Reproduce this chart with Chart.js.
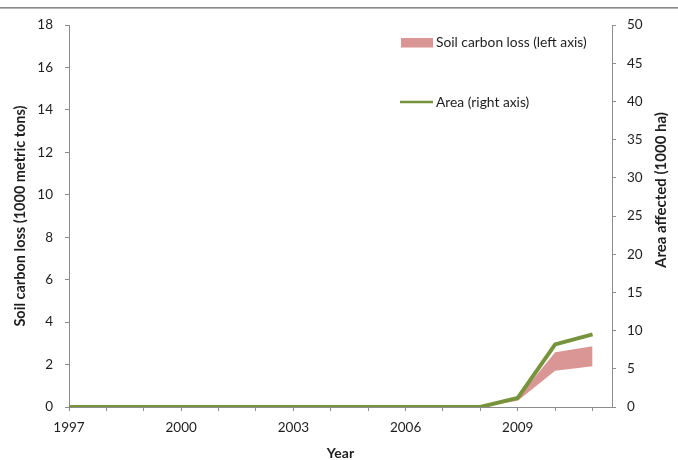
<!DOCTYPE html>
<html>
<head>
<meta charset="utf-8">
<script src="https://cdn.jsdelivr.net/npm/chart.js@4/dist/chart.umd.min.js"></script>
<style>
  html, body { margin: 0; padding: 0; background: #ffffff; }
  #wrap { width: 678px; height: 460px; position: relative; }
</style>
</head>
<body>
<div id="wrap"><canvas id="chart" width="678" height="460"></canvas></div>
<script>
// Years on the horizontal axis
const years = [1997, 1998, 1999, 2000, 2001, 2002, 2003, 2004, 2005, 2006, 2007, 2008, 2009, 2010, 2011];
// Area affected (1000 ha), right axis
const areaAffected = [0, 0, 0, 0, 0, 0, 0, 0, 0, 0, 0, 0, 1.2, 8.2, 9.5];
// Soil carbon loss range (1000 metric tons), left axis
const carbonLow  = [0, 0, 0, 0, 0, 0, 0, 0, 0, 0, 0, 0, 0.30, 1.71, 1.92];
const carbonHigh = [0, 0, 0, 0, 0, 0, 0, 0, 0, 0, 0, 0, 0.42, 2.58, 2.86];
// Labelled years on the horizontal axis
const yearLabels = [1997, 2000, 2003, 2006, 2009];

const FONT = 'Lato, "Open Sans", sans-serif';
const AXIS_GREY = '#8c8c8c';
const TEXT = '#1e1e1e';
const GREEN = '#77933C';
const PINK = '#D99694';

const toPoints = arr => years.map((yr, i) => ({ x: yr, y: arr[i] }));

// Legend drawn inside the plot, plus the thin rule along the top edge
const decorations = {
  id: 'decorations',
  beforeDraw(chart) {
    const ctx = chart.ctx;
    ctx.save();
    ctx.fillStyle = '#8a8a8a';
    ctx.fillRect(0, 7, chart.width, 1);
    ctx.fillStyle = '#b4b4b4';
    ctx.fillRect(0, 8, chart.width, 1);
    ctx.restore();
  },
  afterDraw(chart) {
    const ctx = chart.ctx;
    const ds = chart.data.datasets;
    ctx.save();
    ctx.font = '13.8px ' + FONT;
    ctx.textBaseline = 'middle';
    ctx.textAlign = 'left';
    // band entry
    ctx.fillStyle = ds[2].backgroundColor;
    ctx.fillRect(401, 38, 32, 9.5);
    ctx.fillStyle = TEXT;
    ctx.fillText(ds[2].label, 436, 43);
    // line entry
    ctx.strokeStyle = ds[0].borderColor;
    ctx.lineWidth = 2.5;
    ctx.beginPath();
    ctx.moveTo(400, 102);
    ctx.lineTo(433, 102);
    ctx.stroke();
    ctx.fillText(ds[0].label, 436, 103);

    // right axis title, reading bottom to top
    ctx.font = 'bold 15px ' + FONT;
    ctx.textAlign = 'center';
    ctx.translate(661, 190);
    ctx.rotate(-Math.PI / 2);
    ctx.fillText('Area affected (1000 ha)', 0, 0);
    ctx.restore();
  }
};

new Chart(document.getElementById('chart'), {
  type: 'line',
  data: {
    datasets: [
      {
        label: 'Area (right axis)',
        data: toPoints(areaAffected),
        yAxisID: 'y1',
        borderColor: GREEN,
        borderWidth: 4,
        borderJoinStyle: 'round',
        borderCapStyle: 'butt',
        pointRadius: 0,
        tension: 0,
        fill: false
      },
      {
        label: 'Soil carbon loss low',
        data: toPoints(carbonLow),
        yAxisID: 'y',
        borderWidth: 0,
        borderColor: 'rgba(0,0,0,0)',
        pointRadius: 0,
        tension: 0,
        fill: false
      },
      {
        label: 'Soil carbon loss (left axis)',
        data: toPoints(carbonHigh),
        yAxisID: 'y',
        borderWidth: 0,
        borderColor: 'rgba(0,0,0,0)',
        backgroundColor: PINK,
        pointRadius: 0,
        tension: 0,
        fill: '-1'
      }
    ]
  },
  options: {
    responsive: false,
    animation: false,
    events: [],
    layout: { padding: { top: 25, left: 0, right: 0, bottom: 0 } },
    plugins: {
      legend: { display: false },
      tooltip: { enabled: false },
      filler: { propagate: false }
    },
    scales: {
      x: {
        type: 'linear',
        min: 1997,
        max: 2011.52,
        afterFit(scale) { scale.height = 53; },
        border: { display: true, color: AXIS_GREY, width: 1 },
        grid: { display: true, drawOnChartArea: false, drawTicks: true, tickLength: 4, color: AXIS_GREY },
        ticks: {
          stepSize: 1,
          includeBounds: false,
          autoSkip: false,
          maxRotation: 0,
          padding: 9,
          color: TEXT,
          font: { family: FONT, size: 13.5 },
          callback: v => (yearLabels.includes(Math.round(v)) && Math.abs(v - Math.round(v)) < 1e-6) ? String(Math.round(v)) : ''
        },
        title: {
          display: true,
          text: 'Year',
          color: TEXT,
          padding: { top: 0, bottom: 0 },
          font: { family: FONT, size: 14, weight: 'bold', lineHeight: 1 }
        }
      },
      y: {
        position: 'left',
        min: 0,
        max: 18,
        afterFit(scale) { scale.width = 69; },
        border: { display: true, color: AXIS_GREY, width: 1 },
        grid: { display: true, drawOnChartArea: false, drawTicks: true, tickLength: 4, color: AXIS_GREY },
        ticks: {
          stepSize: 2,
          padding: 12,
          color: TEXT,
          font: { family: FONT, size: 13.5 }
        },
        title: {
          display: true,
          text: 'Soil carbon loss (1000 metric tons)',
          color: TEXT,
          padding: { top: 13, bottom: 0 },
          font: { family: FONT, size: 14.5, weight: 'bold', lineHeight: 1 }
        }
      },
      y1: {
        position: 'right',
        min: 0,
        max: 50,
        afterFit(scale) { scale.width = 66; },
        border: { display: true, color: AXIS_GREY, width: 1 },
        grid: { display: true, drawOnChartArea: false, drawTicks: true, tickLength: 4, color: AXIS_GREY },
        ticks: {
          stepSize: 5,
          padding: 11,
          color: TEXT,
          font: { family: FONT, size: 13.5 }
        },
        title: { display: false }
      }
    }
  },
  plugins: [decorations]
});
</script>
</body>
</html>
